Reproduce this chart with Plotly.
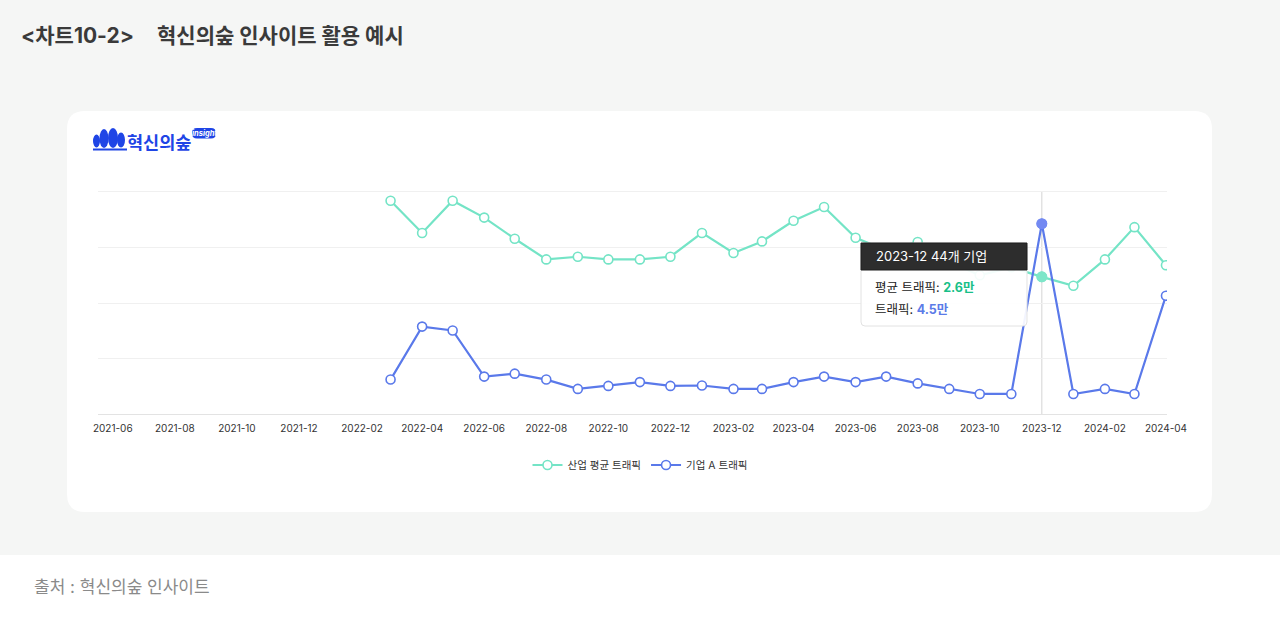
import plotly.graph_objects as go

W, H = 1280, 618

# monthly traffic, unit: 만 (10k)
months = ["2022-03", "2022-04", "2022-05", "2022-06", "2022-07", "2022-08", "2022-09",
          "2022-10", "2022-11", "2022-12", "2023-01", "2023-02", "2023-03", "2023-04",
          "2023-05", "2023-06", "2023-07", "2023-08", "2023-09", "2023-10", "2023-11",
          "2023-12", "2024-01", "2024-02", "2024-03", "2024-04"]
industry_avg = [4.04, 3.43, 4.04, 3.72, 3.32, 2.93, 2.98, 2.93, 2.93, 2.98,
                3.43, 3.05, 3.27, 3.66, 3.92, 3.34, 3.10, 3.26, 2.88, 2.63, 2.78, 2.60,
                2.43, 2.93, 3.54, 2.82]
company_a = [0.82, 2.07, 1.98, 0.89, 0.96, 0.82, 0.60, 0.67, 0.76, 0.67,
             0.68, 0.60, 0.60, 0.76, 0.89, 0.76, 0.89, 0.73, 0.60, 0.48, 0.48, 4.50,
             0.48, 0.60, 0.48, 2.80]
company_count = 44
hl = months.index("2023-12")  # hovered month in the screenshot

x_range = ["2021-05-17", "2024-04-02"]
y1_max = 4.21   # industry axis top gridline
y2_max = 5.255  # company axis top gridline

MINT = "#74e4c6"
MINT_HL = "#7ee6c9"
BLUE = "#5a79ea"
BLUE_HL = "#7389f2"
FONT = "Inter, 'Noto Sans CJK KR', sans-serif"

# plot box: bottom at 414.3px, top gridline at 191.7px, domain a bit taller so
# plotly keeps the top gridline
Y_BOT, Y_TOP, Y_DOM_TOP = 414.3, 191.7, 188.0
stretch = (Y_BOT - Y_DOM_TOP) / (Y_BOT - Y_TOP)


def px(x):
    return x / W


def py(y):
    return 1 - y / H


def rrect(x0, y0, x1, y1, r):
    pts = [("M", x0 + r, y0), ("L", x1 - r, y0), ("Q", x1, y0, x1, y0 + r),
           ("L", x1, y1 - r), ("Q", x1, y1, x1 - r, y1), ("L", x0 + r, y1),
           ("Q", x0, y1, x0, y1 - r), ("L", x0, y0 + r), ("Q", x0, y0, x0 + r, y0)]
    out = []
    for p in pts:
        cmd, vals = p[0], p[1:]
        coords = []
        for i in range(0, len(vals), 2):
            coords.append(f"{px(vals[i]):.5f},{py(vals[i + 1]):.5f}")
        out.append(cmd + " " + " ".join(coords))
    return " ".join(out) + " Z"


fig = go.Figure()

fig.add_trace(go.Scatter(
    x=months, y=industry_avg, name="산업 평균 트래픽", mode="lines+markers",
    line=dict(color=MINT, width=2.2),
    marker=dict(size=9, color="white", line=dict(color=MINT, width=1.6)),
    yaxis="y", hoverinfo="skip"))
fig.add_trace(go.Scatter(
    x=months, y=company_a, name="기업 A 트래픽", mode="lines+markers",
    line=dict(color=BLUE, width=2.2),
    marker=dict(size=9, color="white", line=dict(color=BLUE, width=1.6)),
    yaxis="y2", hoverinfo="skip"))

# highlighted points of the hovered month
fig.add_trace(go.Scatter(
    x=[months[hl]], y=[industry_avg[hl]], mode="markers", showlegend=False,
    marker=dict(size=11, color=MINT_HL), yaxis="y", hoverinfo="skip"))
fig.add_trace(go.Scatter(
    x=[months[hl]], y=[company_a[hl]], mode="markers", showlegend=False,
    marker=dict(size=11, color=BLUE_HL), yaxis="y2", hoverinfo="skip"))

shapes = [
    dict(type="rect", xref="paper", yref="paper", x0=0, x1=1, y0=py(555), y1=1,
         fillcolor="#f5f6f5", line=dict(width=0), layer="below"),
    dict(type="path", xref="paper", yref="paper", path=rrect(67, 111, 1212, 512, 18),
         fillcolor="white", line=dict(width=0), layer="below"),
    # hover guide line
    dict(type="line", xref="x", yref="paper", x0=months[hl], x1=months[hl],
         y0=py(Y_BOT), y1=py(Y_TOP), line=dict(color="#d4d4d4", width=1), layer="below"),
]

# logo: little trees + base
for cx, cy, rx, ry in [(96.5, 141, 3.5, 6.5), (104, 138.5, 4.5, 9.5), (113, 138, 5, 10),
                       (121, 140, 4, 7.5)]:
    shapes.append(dict(type="circle", xref="paper", yref="paper",
                       x0=px(cx - rx), x1=px(cx + rx), y0=py(cy + ry), y1=py(cy - ry),
                       fillcolor="#1f45e6", line=dict(width=0)))
shapes.append(dict(type="rect", xref="paper", yref="paper", x0=px(93), x1=px(127),
                   y0=py(150.5), y1=py(148.5), fillcolor="#1f45e6", line=dict(width=0)))
shapes.append(dict(type="path", xref="paper", yref="paper", path=rrect(192, 128, 216, 138.5, 5),
                   fillcolor="#1f45e6", line=dict(width=0)))

# tooltip box
shapes.append(dict(type="path", xref="paper", yref="paper", path=rrect(861, 243, 1027, 326, 4),
                   fillcolor="rgba(255,255,255,0.92)", line=dict(color="#e2e2e2", width=1)))
shapes.append(dict(type="rect", xref="paper", yref="paper", x0=px(861), x1=px(1027),
                   y0=py(270), y1=py(243), fillcolor="rgba(38,38,38,0.97)",
                   line=dict(color="#1e1e1e", width=1)))

annotations = [
    dict(text="&lt;차트10-2&gt;", x=px(19), y=py(35), xanchor="left", yanchor="middle",
         font=dict(size=21, color="#3a3a3a", family=FONT, weight="bold")),
    dict(text="혁신의숲 인사이트 활용 예시", x=px(155), y=py(35), xanchor="left", yanchor="middle",
         font=dict(size=21, color="#3a3a3a", family=FONT, weight="bold")),
    dict(text="출처 : 혁신의숲 인사이트", x=px(32), y=py(587), xanchor="left", yanchor="middle",
         font=dict(size=17, color="#8a8a8a", family=FONT)),
    dict(text="<b>혁신의숲</b>", x=px(125), y=py(141), xanchor="left", yanchor="middle",
         font=dict(size=17.5, color="#1f45e6", family="'Noto Sans CJK KR'")),
    dict(text="<b><i>insight</i></b>", x=px(204), y=py(133.5), xanchor="center", yanchor="middle",
         font=dict(size=7.5, color="white", family=FONT)),
    dict(text=f"{months[hl]} {company_count}개 기업", x=px(874), y=py(256.5),
         xanchor="left", yanchor="middle", font=dict(size=13, color="white", family=FONT)),
    dict(text=f"평균 트래픽: <span style='color:#19bf88'><b>{industry_avg[hl]:.1f}만</b></span>",
         x=px(873), y=py(287), xanchor="left", yanchor="middle",
         font=dict(size=12.5, color="#222", family=FONT)),
    dict(text=f"트래픽: <span style='color:#5b7be8'><b>{company_a[hl]:.1f}만</b></span>",
         x=px(873), y=py(309), xanchor="left", yanchor="middle",
         font=dict(size=12.5, color="#222", family=FONT)),
]
for a in annotations:
    a.update(xref="paper", yref="paper", showarrow=False)

fig.update_layout(
    width=W, height=H,
    margin=dict(l=0, r=0, t=0, b=0, autoexpand=False),
    paper_bgcolor="white", plot_bgcolor="rgba(0,0,0,0)",
    font=dict(family=FONT, color="#333"),
    shapes=shapes, annotations=annotations,
    showlegend=True,
    legend=dict(orientation="h", x=0.5, xanchor="center", y=py(465), yanchor="middle",
                font=dict(size=10.5, color="#333"), itemwidth=30, bgcolor="rgba(0,0,0,0)"),
    xaxis=dict(domain=[px(97.5), px(1167)], type="date", range=x_range,
               tick0="2021-06-01", dtick="M2", tickformat="%Y-%m", automargin=False,
               showgrid=False, showline=True, linecolor="#e3e3e3", linewidth=1,
               ticks="", ticklabelstandoff=5, tickfont=dict(size=10, color="#333")),
    yaxis=dict(domain=[py(Y_BOT), py(Y_DOM_TOP)], range=[0, y1_max * stretch], automargin=False,
               tickvals=[y1_max * i / 4 for i in range(5)], showticklabels=False,
               gridcolor="#f0f0f0", gridwidth=1, zeroline=False, showline=False),
    yaxis2=dict(domain=[py(Y_BOT), py(Y_DOM_TOP)], range=[0, y2_max * stretch], overlaying="y",
                automargin=False, showgrid=False, showticklabels=False,
                zeroline=False, showline=False),
)

# page has a default 8px body margin; drop it so the figure sits at the window corner
fig.write_html("out.html", config={"responsive": False, "displayModeBar": False},
               post_script="document.body.style.margin='0';document.body.style.overflow='hidden';")
